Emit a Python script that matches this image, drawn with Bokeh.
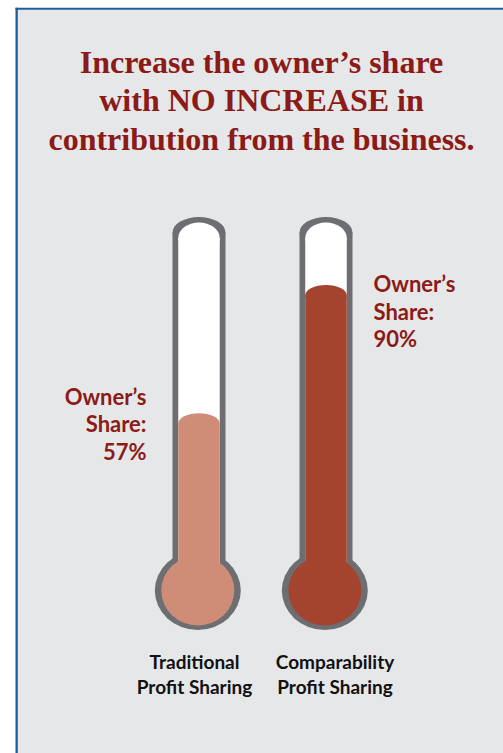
from bokeh.plotting import figure
from bokeh.models import Range1d, ColumnDataSource
from bokeh.core.properties import value
from bokeh.embed import file_html
from bokeh.resources import INLINE

# ---- data ----
TITLE_LINES = ["Increase the owner\u2019s share", "with NO INCREASE in", "contribution from the business."]
CATEGORIES = [["Traditional", "Profit Sharing"], ["Comparability", "Profit Sharing"]]
SHARES = [57, 90]  # owner's share, %
SHARE_TEXT = ["Owner\u2019s", "Share:"]

# ---- style ----
BG = "#E6E7E9"
BLUE = "#1A5E9C"
GRAY = "#6D6E71"
FILLS = ["#CF8D78", "#A4442F"]
RED = "#8C1A16"

W, H = 503, 753
p = figure(width=W, height=H, output_backend="svg", toolbar_location=None,
           x_range=Range1d(0, W), y_range=Range1d(H, 0),
           x_axis_type=None, y_axis_type=None, min_border=0,
           outline_line_color=None, background_fill_color="white",
           border_fill_color="white")
p.grid.visible = False

# percent scale for the thermometer fill (page y of 0% and px per %)
Y0, K = 644.9, 3.888
p.extra_y_ranges = {"pct": Range1d((Y0 - H) / K, Y0 / K)}

# panel background + blue border
p.quad(left=[17], right=[W], top=[9], bottom=[H], fill_color=BG, line_color=None)
p.quad(left=[15], right=[17.3], top=[7.3], bottom=[H], fill_color=BLUE, line_color=None)
p.quad(left=[15], right=[W], top=[7.3], bottom=[9.3], fill_color=BLUE, line_color=None)

# title
p.text(x=[261] * 3, y=[61, 99.5, 138], text=TITLE_LINES, text_align="center",
       text_baseline="alphabetic", text_font=value("Liberation Serif"),
       text_font_size="32px", text_font_style="bold", text_color=RED)

CX = [198.5, 325.5]
BULB_Y = 590
for i, (cx, v) in enumerate(zip(CX, SHARES)):
    col = FILLS[i]
    # outer gray tube
    p.quad(left=[cx - 26.5], right=[cx + 26.5], top=[232], bottom=[BULB_Y], fill_color=GRAY, line_color=None)
    p.ellipse(x=[cx], y=[232], width=53, height=31, width_units="screen", height_units="screen",
              fill_color=GRAY, line_color=None)
    p.ellipse(x=[cx - 1.2], y=[BULB_Y], width=86, height=79, width_units="screen", height_units="screen",
              fill_color=GRAY, line_color=None)
    # inner white tube
    p.quad(left=[cx - 20.75], right=[cx + 20.75], top=[237.5], bottom=[BULB_Y], fill_color="white", line_color=None)
    p.ellipse(x=[cx], y=[237.5], width=41.5, height=31, width_units="screen", height_units="screen",
              fill_color="white", line_color=None)
    # liquid
    p.ellipse(x=[cx - 1.2], y=[BULB_Y], width=73, height=70, width_units="screen", height_units="screen",
              fill_color=col, line_color=None)
    src = ColumnDataSource(dict(l=[cx - 20.75], r=[cx + 20.75], t=[v], b=[(Y0 - BULB_Y) / K]))
    p.quad(left="l", right="r", top="t", bottom="b", source=src, fill_color=col, line_color=None,
           y_range_name="pct")
    p.ellipse(x=[cx], y=[v], width=41.5, height=21, width_units="screen", height_units="screen",
              fill_color=col, line_color=None, y_range_name="pct")

# owner's share labels
LAB_POS = [(146, [396, 423, 451], "right"), (373, [283, 310.5, 338], "left")]
for (lx, ys, al), v in zip(LAB_POS, SHARES):
    p.text(x=[lx] * 3, y=ys, text=SHARE_TEXT + [f"{v}%"], text_align=al, text_baseline="alphabetic",
           text_font=value("Lato"), text_font_size="22px",
           text_font_style="bold", text_color=RED)

# category labels
CAT_X = [194, 334.5]
for cxl, lines in zip(CAT_X, CATEGORIES):
    p.text(x=[cxl] * 2, y=[661, 686], text=lines, text_align="center", text_baseline="alphabetic",
           text_font=value("Lato"), text_font_size="19px",
           text_font_style="bold", text_color="#111111")

open("out.html", "w").write(file_html(p, INLINE))
